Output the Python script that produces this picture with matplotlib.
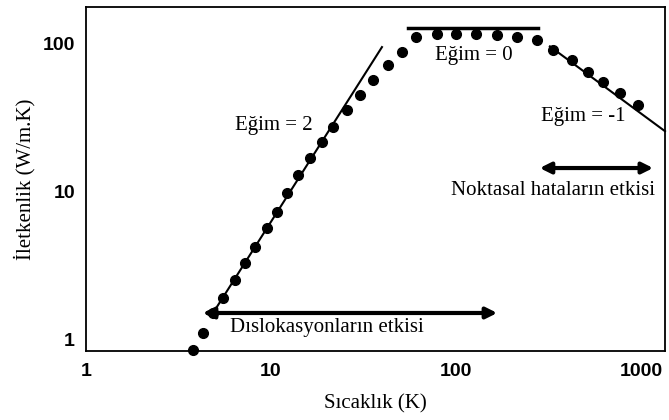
import numpy as np
import matplotlib.pyplot as plt

# measured points (temperature K, conductivity W/m.K)
temp = [3.8, 4.3, 4.86, 5.5, 6.4, 7.2, 8.2, 9.5, 10.8, 12.2, 14.0, 16.2, 18.9, 21.6,
        25.7, 30.3, 35.6, 42.9, 51.0, 60.8, 78.9, 100, 128, 167, 214, 274,
        334, 424, 517, 624, 770, 964]
cond = [0.86, 1.11, 1.52, 1.92, 2.54, 3.31, 4.23, 5.68, 7.28, 9.77, 12.9, 16.8, 21.5, 27.2,
        35.4, 44.7, 56.4, 71.1, 87.0, 110, 115, 115, 115, 113, 110, 105,
        89.7, 76.9, 63.8, 54.6, 46.0, 38.2]

# guide lines
slope2_x = [4.86, 39.8]
slope2_y = [1.52, 94]
slope0_x = [55, 277]
slope0_y = [126, 126]
slope_m1_x = [322, 1349]
slope_m1_y = [95, 25.5]

x_ticks = [1, 10, 100, 1000]
y_ticks = [1, 10, 100]

serif = 'Liberation Serif'
sans = 'Liberation Sans'

fig = plt.figure(figsize=(6.69, 4.20), dpi=100)
ax = fig.add_axes([0.1286, 0.1643, 0.8654, 0.819])
ax.set_xscale('log')
ax.set_yscale('log')
ax.set_xlim(1, 1349)
ax.set_ylim(0.843, 175)

ax.plot(temp, cond, 'o', color='black', ms=7, clip_on=False, zorder=3)
ax.plot(slope2_x, slope2_y, color='black', lw=1.5)
ax.plot(slope0_x, slope0_y, color='black', lw=2.5)
ax.plot(slope_m1_x, slope_m1_y, color='black', lw=1.5, clip_on=False)

arrow = dict(arrowstyle='<|-|>', color='black', lw=3, mutation_scale=16)
ax.annotate('', xy=(4.13, 1.52), xytext=(173, 1.52), arrowprops=arrow)
ax.annotate('', xy=(274, 14.4), xytext=(1205, 14.4), arrowprops=arrow)

tkw = dict(family=serif, fontsize=15, ha='center', va='center')
ax.text(10.3, 28, 'Eğim = 2', **tkw)
ax.text(125, 83, 'Eğim = 0', **tkw)
ax.text(486, 31.8, 'Eğim = -1', **tkw)
ax.text(334, 10.2, 'Noktasal hataların etkisi', **tkw)
ax.text(20.1, 1.22, 'Dıslokasyonların etkisi', **tkw)

ax.set_xticks(x_ticks)
ax.set_xticklabels([str(v) for v in x_ticks], family=sans, fontweight='bold', fontsize=14)
ax.set_yticks(y_ticks)
ax.set_yticklabels([str(v) for v in y_ticks], family=sans, fontweight='bold', fontsize=14)
ax.minorticks_off()
ax.tick_params(axis='x', length=0, pad=9)
ax.tick_params(axis='y', length=0, pad=8)

ax.set_xlabel('Sıcaklık (K)', family=serif, fontsize=15, labelpad=10)
ax.set_ylabel('İletkenlik (W/m.K)', family=serif, fontsize=15, labelpad=5)

for s in ax.spines.values():
    s.set_linewidth(1.3)

fig.savefig('out.png', dpi=100)
